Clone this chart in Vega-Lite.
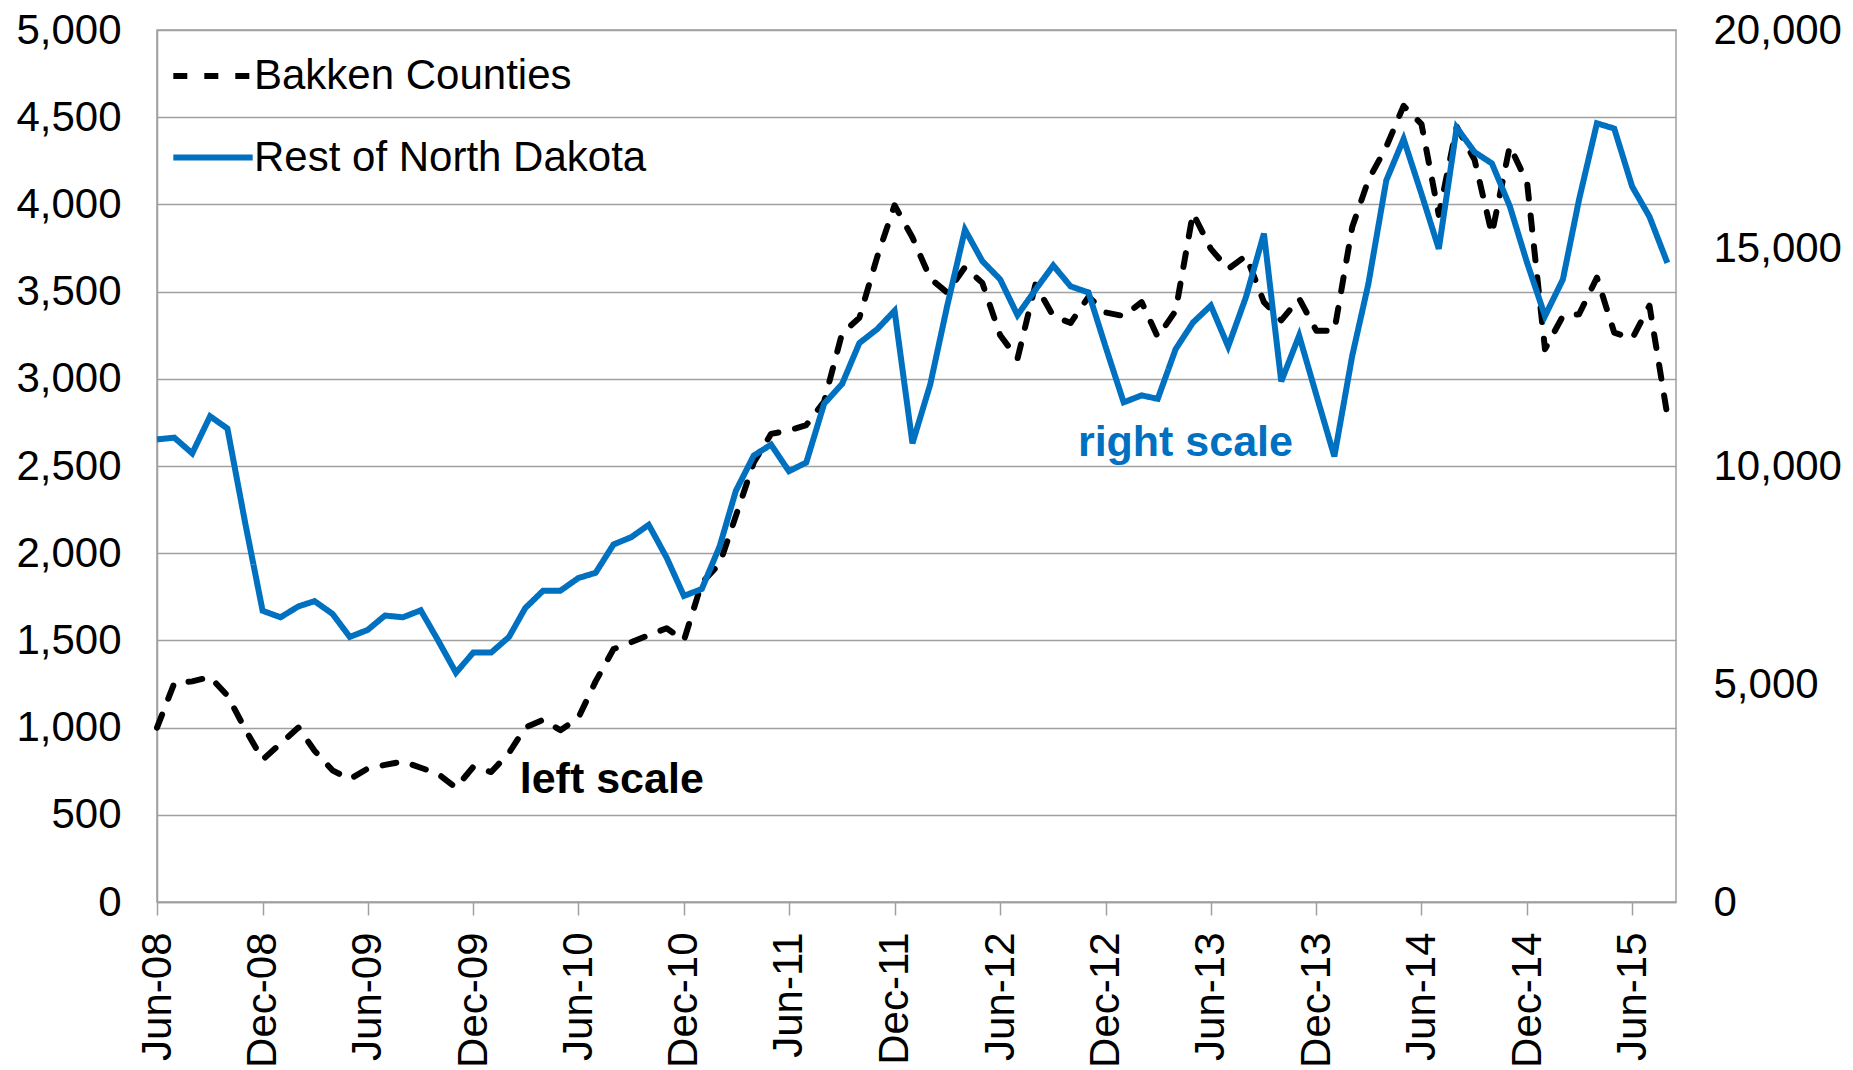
{
  "$schema": "https://vega.github.io/schema/vega-lite/v6.json",
  "width": 1519,
  "height": 872,
  "autosize": {"type": "none"},
  "padding": {"left": 157, "top": 30, "right": 177, "bottom": 168},
  "background": "white",
  "config": {
    "view": {"stroke": "#A0A0A0", "strokeWidth": 1.5},
    "font": "Liberation Sans",
    "axis": {
      "labelFont": "Liberation Sans",
      "labelFontSize": 42,
      "labelColor": "black",
      "title": null,
      "domainColor": "#A0A0A0",
      "domainWidth": 1.5,
      "tickColor": "#A0A0A0",
      "tickWidth": 1.5,
      "gridColor": "#A0A0A0",
      "gridWidth": 1.5,
      "labelOverlap": false,
      "labelLimit": 1000
    }
  },
  "data": {
    "values": [
      {"month": "2008-06-01", "Bakken Counties": 1000, "Rest of North Dakota": 10610},
      {"month": "2008-07-01", "Bakken Counties": 1255, "Rest of North Dakota": 10650},
      {"month": "2008-08-01", "Bakken Counties": 1265, "Rest of North Dakota": 10290},
      {"month": "2008-09-01", "Bakken Counties": 1290, "Rest of North Dakota": 11140},
      {"month": "2008-10-01", "Bakken Counties": 1184, "Rest of North Dakota": 10860},
      {"month": "2008-11-01", "Bakken Counties": 990, "Rest of North Dakota": 8680},
      {"month": "2008-12-01", "Bakken Counties": 816, "Rest of North Dakota": 6680},
      {"month": "2009-01-01", "Bakken Counties": 908, "Rest of North Dakota": 6530},
      {"month": "2009-02-01", "Bakken Counties": 1000, "Rest of North Dakota": 6780},
      {"month": "2009-03-01", "Bakken Counties": 867, "Rest of North Dakota": 6900},
      {"month": "2009-04-01", "Bakken Counties": 755, "Rest of North Dakota": 6610},
      {"month": "2009-05-01", "Bakken Counties": 704, "Rest of North Dakota": 6080},
      {"month": "2009-06-01", "Bakken Counties": 765, "Rest of North Dakota": 6240},
      {"month": "2009-07-01", "Bakken Counties": 786, "Rest of North Dakota": 6570},
      {"month": "2009-08-01", "Bakken Counties": 806, "Rest of North Dakota": 6530},
      {"month": "2009-09-01", "Bakken Counties": 770, "Rest of North Dakota": 6690},
      {"month": "2009-10-01", "Bakken Counties": 735, "Rest of North Dakota": 6000},
      {"month": "2009-11-01", "Bakken Counties": 655, "Rest of North Dakota": 5260},
      {"month": "2009-12-01", "Bakken Counties": 775, "Rest of North Dakota": 5720},
      {"month": "2010-01-01", "Bakken Counties": 745, "Rest of North Dakota": 5720},
      {"month": "2010-02-01", "Bakken Counties": 855, "Rest of North Dakota": 6080},
      {"month": "2010-03-01", "Bakken Counties": 1000, "Rest of North Dakota": 6740},
      {"month": "2010-04-01", "Bakken Counties": 1045, "Rest of North Dakota": 7140},
      {"month": "2010-05-01", "Bakken Counties": 985, "Rest of North Dakota": 7140},
      {"month": "2010-06-01", "Bakken Counties": 1055, "Rest of North Dakota": 7430},
      {"month": "2010-07-01", "Bakken Counties": 1265, "Rest of North Dakota": 7550},
      {"month": "2010-08-01", "Bakken Counties": 1450, "Rest of North Dakota": 8200},
      {"month": "2010-09-01", "Bakken Counties": 1490, "Rest of North Dakota": 8370},
      {"month": "2010-10-01", "Bakken Counties": 1530, "Rest of North Dakota": 8650},
      {"month": "2010-11-01", "Bakken Counties": 1570, "Rest of North Dakota": 7900},
      {"month": "2010-12-01", "Bakken Counties": 1500, "Rest of North Dakota": 7020},
      {"month": "2011-01-01", "Bakken Counties": 1830, "Rest of North Dakota": 7180},
      {"month": "2011-02-01", "Bakken Counties": 1940, "Rest of North Dakota": 8160},
      {"month": "2011-03-01", "Bakken Counties": 2214, "Rest of North Dakota": 9430},
      {"month": "2011-04-01", "Bakken Counties": 2520, "Rest of North Dakota": 10240},
      {"month": "2011-05-01", "Bakken Counties": 2684, "Rest of North Dakota": 10490},
      {"month": "2011-06-01", "Bakken Counties": 2704, "Rest of North Dakota": 9880},
      {"month": "2011-07-01", "Bakken Counties": 2735, "Rest of North Dakota": 10080},
      {"month": "2011-08-01", "Bakken Counties": 2870, "Rest of North Dakota": 11430},
      {"month": "2011-09-01", "Bakken Counties": 3260, "Rest of North Dakota": 11880},
      {"month": "2011-10-01", "Bakken Counties": 3350, "Rest of North Dakota": 12820},
      {"month": "2011-11-01", "Bakken Counties": 3700, "Rest of North Dakota": 13140},
      {"month": "2011-12-01", "Bakken Counties": 3995, "Rest of North Dakota": 13560},
      {"month": "2012-01-01", "Bakken Counties": 3810, "Rest of North Dakota": 10520},
      {"month": "2012-02-01", "Bakken Counties": 3575, "Rest of North Dakota": 11880},
      {"month": "2012-03-01", "Bakken Counties": 3495, "Rest of North Dakota": 13660},
      {"month": "2012-04-01", "Bakken Counties": 3640, "Rest of North Dakota": 15420},
      {"month": "2012-05-01", "Bakken Counties": 3550, "Rest of North Dakota": 14700},
      {"month": "2012-06-01", "Bakken Counties": 3250, "Rest of North Dakota": 14280},
      {"month": "2012-07-01", "Bakken Counties": 3115, "Rest of North Dakota": 13460},
      {"month": "2012-08-01", "Bakken Counties": 3540, "Rest of North Dakota": 14040},
      {"month": "2012-09-01", "Bakken Counties": 3360, "Rest of North Dakota": 14600},
      {"month": "2012-10-01", "Bakken Counties": 3320, "Rest of North Dakota": 14120},
      {"month": "2012-11-01", "Bakken Counties": 3470, "Rest of North Dakota": 13980},
      {"month": "2012-12-01", "Bakken Counties": 3380, "Rest of North Dakota": 12720},
      {"month": "2013-01-01", "Bakken Counties": 3360, "Rest of North Dakota": 11460},
      {"month": "2013-02-01", "Bakken Counties": 3440, "Rest of North Dakota": 11620},
      {"month": "2013-03-01", "Bakken Counties": 3240, "Rest of North Dakota": 11540},
      {"month": "2013-04-01", "Bakken Counties": 3390, "Rest of North Dakota": 12680},
      {"month": "2013-05-01", "Bakken Counties": 3950, "Rest of North Dakota": 13290},
      {"month": "2013-06-01", "Bakken Counties": 3745, "Rest of North Dakota": 13680},
      {"month": "2013-07-01", "Bakken Counties": 3630, "Rest of North Dakota": 12740},
      {"month": "2013-08-01", "Bakken Counties": 3705, "Rest of North Dakota": 13880},
      {"month": "2013-09-01", "Bakken Counties": 3440, "Rest of North Dakota": 15330},
      {"month": "2013-10-01", "Bakken Counties": 3335, "Rest of North Dakota": 11940},
      {"month": "2013-11-01", "Bakken Counties": 3460, "Rest of North Dakota": 12990},
      {"month": "2013-12-01", "Bakken Counties": 3275, "Rest of North Dakota": 11620},
      {"month": "2014-01-01", "Bakken Counties": 3275, "Rest of North Dakota": 10220},
      {"month": "2014-02-01", "Bakken Counties": 3870, "Rest of North Dakota": 12530},
      {"month": "2014-03-01", "Bakken Counties": 4140, "Rest of North Dakota": 14180},
      {"month": "2014-04-01", "Bakken Counties": 4330, "Rest of North Dakota": 16550},
      {"month": "2014-05-01", "Bakken Counties": 4565, "Rest of North Dakota": 17500},
      {"month": "2014-06-01", "Bakken Counties": 4460, "Rest of North Dakota": 16240},
      {"month": "2014-07-01", "Bakken Counties": 3940, "Rest of North Dakota": 14980},
      {"month": "2014-08-01", "Bakken Counties": 4445, "Rest of North Dakota": 17760},
      {"month": "2014-09-01", "Bakken Counties": 4255, "Rest of North Dakota": 17200},
      {"month": "2014-10-01", "Bakken Counties": 3830, "Rest of North Dakota": 16940},
      {"month": "2014-11-01", "Bakken Counties": 4335, "Rest of North Dakota": 15960},
      {"month": "2014-12-01", "Bakken Counties": 4125, "Rest of North Dakota": 14660},
      {"month": "2015-01-01", "Bakken Counties": 3170, "Rest of North Dakota": 13440},
      {"month": "2015-02-01", "Bakken Counties": 3360, "Rest of North Dakota": 14280},
      {"month": "2015-03-01", "Bakken Counties": 3370, "Rest of North Dakota": 16110},
      {"month": "2015-04-01", "Bakken Counties": 3580, "Rest of North Dakota": 17860},
      {"month": "2015-05-01", "Bakken Counties": 3265, "Rest of North Dakota": 17740},
      {"month": "2015-06-01", "Bakken Counties": 3230, "Rest of North Dakota": 16410},
      {"month": "2015-07-01", "Bakken Counties": 3420, "Rest of North Dakota": 15720},
      {"month": "2015-08-01", "Bakken Counties": 2790, "Rest of North Dakota": 14660}
    ]
  },
  "encoding": {
    "x": {
      "field": "month",
      "type": "temporal",
      "scale": {
        "type": "utc",
        "domain": [
          {"year": 2008, "month": 6, "date": 1, "utc": true},
          {"year": 2015, "month": 8, "date": 16, "utc": true}
        ]
      },
      "axis": {
        "values": [
          {"year": 2008, "month": 6, "date": 1, "utc": true},
          {"year": 2008, "month": 12, "date": 1, "utc": true},
          {"year": 2009, "month": 6, "date": 1, "utc": true},
          {"year": 2009, "month": 12, "date": 1, "utc": true},
          {"year": 2010, "month": 6, "date": 1, "utc": true},
          {"year": 2010, "month": 12, "date": 1, "utc": true},
          {"year": 2011, "month": 6, "date": 1, "utc": true},
          {"year": 2011, "month": 12, "date": 1, "utc": true},
          {"year": 2012, "month": 6, "date": 1, "utc": true},
          {"year": 2012, "month": 12, "date": 1, "utc": true},
          {"year": 2013, "month": 6, "date": 1, "utc": true},
          {"year": 2013, "month": 12, "date": 1, "utc": true},
          {"year": 2014, "month": 6, "date": 1, "utc": true},
          {"year": 2014, "month": 12, "date": 1, "utc": true},
          {"year": 2015, "month": 6, "date": 1, "utc": true}
        ],
        "labelExpr": "utcFormat(datum.value, '%b-%y')",
        "labelAngle": -90,
        "labelAlign": "right",
        "labelBaseline": "middle",
        "tickSize": 13,
        "labelPadding": 17,
        "grid": false,
        "domain": true
      }
    }
  },
  "layer": [
    {
      "layer": [
        {
          "transform": [{"fold": ["Bakken Counties"], "as": ["series", "value"]}],
          "mark": {"type": "line", "strokeWidth": 6, "strokeCap": "round", "strokeJoin": "round"},
          "encoding": {
            "y": {
              "field": "value",
              "type": "quantitative",
              "scale": {"domain": [0, 5000], "nice": false},
              "axis": {
                "orient": "left",
                "values": [0, 500, 1000, 1500, 2000, 2500, 3000, 3500, 4000, 4500, 5000],
                "labelExpr": "datum.value < 1000 ? ('' + datum.value) : (floor(datum.value / 1000) + ',' + (datum.value % 1000 == 0 ? '000' : '500'))",
                "grid": true,
                "ticks": false,
                "tickSize": 0,
                "labelPadding": 36,
                "domain": true
              }
            },
            "color": {
              "field": "series",
              "type": "nominal",
              "scale": {"domain": ["Bakken Counties", "Rest of North Dakota"], "range": ["#000000", "#0070C0"]},
              "legend": {
                "orient": "none",
                "legendX": 13,
                "legendY": 3,
                "title": null,
                "symbolType": "stroke",
                "symbolSize": 6300,
                "symbolStrokeWidth": 6,
                "labelFont": "Liberation Sans",
                "labelFontSize": 42,
                "labelColor": "black",
                "labelOffset": -2,
                "rowPadding": 17.5,
                "padding": 0,
                "labelLimit": 1000
              }
            },
            "strokeDash": {
              "field": "series",
              "type": "nominal",
              "scale": {"domain": ["Bakken Counties", "Rest of North Dakota"], "range": [[14, 17], [1, 0]]},
              "legend": {
                "orient": "none",
                "legendX": 13,
                "legendY": 3,
                "title": null,
                "symbolType": "stroke",
                "symbolSize": 6300,
                "symbolStrokeWidth": 6,
                "labelFont": "Liberation Sans",
                "labelFontSize": 42,
                "labelColor": "black",
                "labelOffset": -2,
                "rowPadding": 17.5,
                "padding": 0,
                "labelLimit": 1000
              }
            }
          }
        },
        {
          "data": {"values": [{"month": "2010-07-29", "value": 623, "label": "left scale"}]},
          "mark": {"type": "text", "font": "Liberation Sans", "fontWeight": "bold", "fontSize": 43, "align": "center", "baseline": "alphabetic", "color": "#000000"},
          "encoding": {
            "y": {"field": "value", "type": "quantitative", "scale": {"domain": [0, 5000], "nice": false}},
            "text": {"field": "label"}
          }
        }
      ]
    },
    {
      "layer": [
        {
          "transform": [{"fold": ["Rest of North Dakota"], "as": ["series", "value"]}],
          "mark": {"type": "line", "strokeWidth": 6, "strokeJoin": "miter"},
          "encoding": {
            "y": {
              "field": "value",
              "type": "quantitative",
              "scale": {"domain": [0, 20000], "nice": false},
              "axis": {
                "orient": "right",
                "values": [0, 5000, 10000, 15000, 20000],
                "labelExpr": "datum.value < 1000 ? ('' + datum.value) : (floor(datum.value / 1000) + ',' + (datum.value % 1000 == 0 ? '000' : '500'))",
                "grid": false,
                "ticks": false,
                "tickSize": 0,
                "labelPadding": 37,
                "domain": false
              }
            },
            "color": {"field": "series", "type": "nominal"},
            "strokeDash": {"field": "series", "type": "nominal"}
          }
        },
        {
          "data": {"values": [{"month": "2013-04-18", "value": 10220, "label": "right scale"}]},
          "mark": {"type": "text", "font": "Liberation Sans", "fontWeight": "bold", "fontSize": 43, "align": "center", "baseline": "alphabetic", "color": "#0070C0"},
          "encoding": {
            "y": {"field": "value", "type": "quantitative", "scale": {"domain": [0, 20000], "nice": false}},
            "text": {"field": "label"}
          }
        }
      ]
    }
  ],
  "resolve": {"scale": {"y": "independent"}, "axis": {"y": "independent"}}
}
